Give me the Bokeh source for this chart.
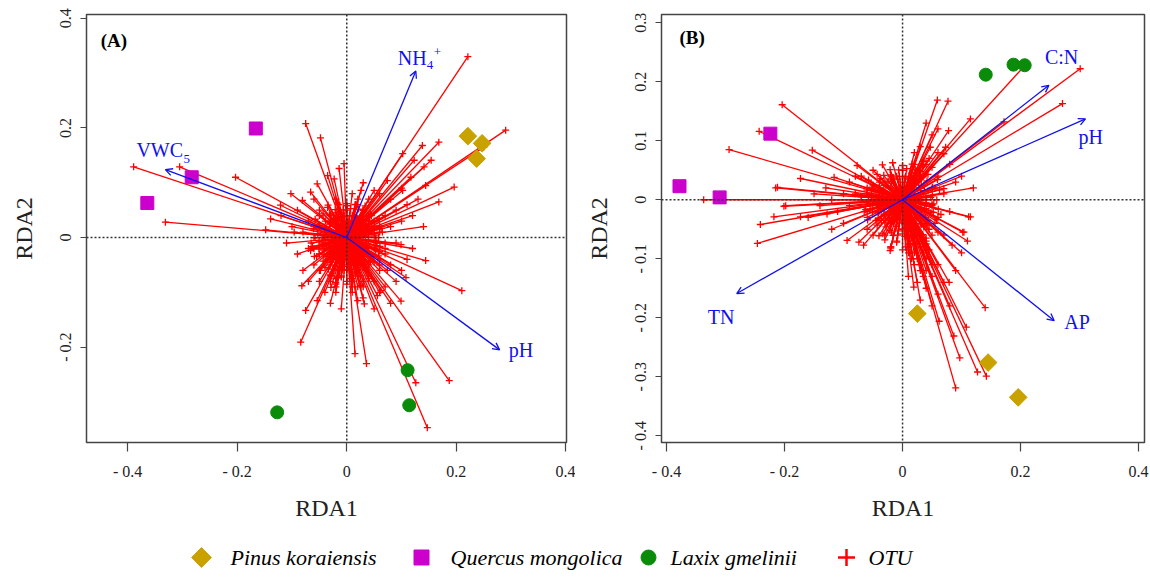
from bokeh.plotting import figure
from bokeh.models import ColumnDataSource, Arrow, OpenHead, Span, FixedTicker, Range1d
from bokeh.layouts import column, row
from bokeh.embed import file_html
from bokeh.resources import INLINE
from bokeh.core.properties import value

FONT = "Liberation Serif"
RED = "#FF0000"
BLUE = "#1010F0"
GOLD = "#C9A200"
MAGENTA = "#CC00CC"
GREEN = "#0A8C0A"

# ---------------- Panel A data ----------------
a_otu_x = [0.221, 0.290, 0.250, -0.389, -0.305, -0.203, -0.331, -0.075, -0.048, -0.005,
           0.168, 0.138, 0.141, 0.196, 0.168, -0.102, -0.066, -0.035, 0.102, 0.123,
           0.154, 0.117, 0.144, 0.102, 0.074, 0.050, 0.026, -0.014, -0.023, -0.054,
           -0.081, -0.096, -0.139, -0.121, -0.148, -0.084, -0.075, -0.082, -0.054, 0.015,
           0.036, 0.126, 0.147, 0.187, 0.099, 0.108, 0.210, 0.144, 0.099, -0.020,
           0.020, 0.056, -0.066, -0.048, -0.029, 0.062, 0.074, 0.032, 0.026, -0.017,
           0.03, 0.05, 0.06, 0.05, 0.04, 0.02, -0.01, -0.03, -0.05, -0.06,
           -0.05, -0.03, 0.00, 0.02, 0.07, 0.08, 0.07, 0.06, 0.03, 0.00,
           -0.03, -0.06, -0.07, -0.08, -0.07, -0.05, -0.02, 0.01, 0.04, 0.09,
           0.10, 0.09, 0.08, 0.05, 0.01, -0.02, -0.05, -0.04, 0.03, 0.06,
           -0.09, -0.10, -0.09, -0.06, 0.06, 0.11, 0.12, 0.12, 0.10, -0.11,
           -0.12, 0.02, -0.02, 0.03, -0.03, 0.04, -0.04, 0.01, 0.00, 0.02,
           0.13, 0.14, 0.11, -0.08, -0.07, 0.07, 0.09, -0.01, 0.05, 0.08,
           -0.03, 0.03, 0.08, 0.10,
           0.01, 0.02, 0.03, 0.04, 0.045, 0.05, 0.04, 0.03, 0.02, 0.01,
           0.00, -0.01, -0.02, -0.03, -0.04, -0.045, -0.04, -0.03, -0.02, -0.01,
           0.025, 0.02, 0.01, 0.00, -0.01, -0.02, -0.025, -0.02, -0.01, 0.00,
           0.01, 0.02, 0.065, 0.06, 0.05, 0.035, 0.02, 0.005, -0.01, -0.025,
           -0.04, -0.055, -0.065, -0.06, -0.05, -0.035, -0.015, 0.00, 0.015, 0.03,
           0.045, 0.055, 0.07, 0.03, -0.03, 0.01, 0.04, -0.02, 0.06, 0.02,
           0.035, 0.015, -0.005, 0.045, 0.025, 0.055, 0.012, -0.018, 0.038, 0.008,
           0.055, 0.053, 0.048, 0.040, 0.030, 0.018, 0.005, -0.008, -0.020, -0.030,
           -0.038, -0.043, -0.045, -0.043, -0.038, -0.030, -0.020, -0.008, 0.005, 0.018,
           0.030, 0.040, 0.048, 0.053,
           0.034, 0.030, 0.022, 0.011, -0.001, -0.012, -0.020, -0.024, -0.024, -0.020,
           -0.012, -0.001, 0.011, 0.022, 0.030, 0.034,
           0.020, 0.016, 0.005, -0.006, -0.010, -0.006, 0.005, 0.016,
           0.070, 0.060, 0.040, -0.020, -0.050, -0.060, -0.050, -0.020, 0.010, 0.040,
           0.060, 0.030]
a_otu_y = [0.330, 0.196, 0.165, 0.129, 0.129, 0.110, 0.028, 0.208, 0.182, 0.135,
           0.174, 0.168, 0.129, 0.092, 0.065, 0.080, 0.083, 0.113, 0.153, 0.141,
           0.141, 0.110, 0.095, 0.086, 0.104, 0.086, 0.086, 0.126, 0.107, 0.098,
           0.068, 0.010, 0.034, 0.059, 0.014, -0.191, -0.133, -0.088, -0.115, -0.212,
           -0.230, -0.265, -0.347, -0.261, -0.116, -0.073, -0.097, -0.042, -0.013, -0.100,
           -0.115, -0.106, -0.024, -0.060, -0.091, -0.097, -0.060, -0.121, -0.088, -0.073,
           0.05, 0.03, 0.01, -0.02, -0.05, -0.06, -0.06, -0.05, -0.03, 0.00,
           0.02, 0.04, 0.05, 0.06, 0.04, 0.02, -0.03, -0.06, -0.08, -0.08,
           -0.07, -0.05, -0.02, 0.01, 0.03, 0.05, 0.07, 0.08, 0.07, 0.05,
           0.03, -0.01, -0.05, -0.08, -0.10, -0.09, -0.08, -0.10, -0.11, -0.10,
           -0.03, 0.02, 0.05, 0.07, 0.08, 0.06, 0.04, -0.02, -0.06, -0.01,
           0.04, 0.03, 0.03, -0.03, -0.02, 0.01, 0.00, -0.04, 0.03, -0.02,
           0.07, 0.02, -0.04, -0.06, -0.08, -0.09, -0.08, -0.13, -0.13, -0.12,
           -0.12, 0.10, 0.07, 0.09,
           0.04, 0.035, 0.03, 0.02, 0.01, -0.005, -0.02, -0.035, -0.04, -0.045,
           -0.05, -0.045, -0.04, -0.03, -0.02, 0.00, 0.015, 0.03, 0.035, 0.045,
           0.00, 0.015, 0.025, 0.028, 0.022, 0.012, -0.005, -0.02, -0.028, -0.03,
           -0.028, -0.018, 0.01, -0.025, -0.045, -0.06, -0.07, -0.075, -0.07, -0.065,
           -0.055, -0.035, -0.01, 0.02, 0.04, 0.055, 0.06, 0.062, 0.06, 0.05,
           0.04, 0.03, -0.01, -0.09, -0.08, -0.09, -0.075, -0.085, -0.04, 0.07,
           -0.055, -0.065, -0.06, -0.03, -0.05, -0.015, 0.005, -0.045, 0.02, -0.035,
           -0.010, 0.003, 0.015, 0.025, 0.033, 0.038, 0.040, 0.038, 0.033, 0.025,
           0.015, 0.003, -0.010, -0.023, -0.035, -0.045, -0.053, -0.058, -0.060, -0.058,
           -0.053, -0.045, -0.035, -0.023,
           -0.004, 0.007, 0.015, 0.019, 0.019, 0.015, 0.007, -0.004, -0.016, -0.027,
           -0.035, -0.039, -0.039, -0.035, -0.027, -0.016,
           -0.010, 0.000, 0.005, 0.000, -0.010, -0.020, -0.025, -0.020,
           -0.020, 0.020, 0.040, 0.045, 0.020, -0.020, -0.060, -0.075, -0.080, -0.070,
           -0.050, 0.050]

# dense, unresolvable core of short OTU arrows (read as one solid blob, alike in both panels)
core_x = [0.058, 0.0506, 0.0627, 0.0509, 0.0592, 0.0414, 0.0431, 0.0300, 0.0334, 0.0215, 0.0162, 0.0070,
          0.0, -0.0067, -0.0168, -0.0211, -0.0342, -0.0318, -0.0431, -0.0391, -0.0577, -0.0520, -0.0605, -0.0529,
          -0.058, -0.0506, -0.0627, -0.0509, -0.0592, -0.0414, -0.0431, -0.0300, -0.0334, -0.0215, -0.0162, -0.0070,
          0.0, 0.0067, 0.0168, 0.0211, 0.0342, 0.0318, 0.0431, 0.0391, 0.0577, 0.0520, 0.0605, 0.0529,
          0.01, 0.025, -0.01, 0.04, -0.03, 0.0, 0.02, -0.02,
          0.0397, 0.037, 0.0317, 0.0244, 0.0153, 0.0052, -0.0052, -0.0153, -0.0244, -0.0317, -0.037, -0.0397,
          -0.0397, -0.037, -0.0317, -0.0244, -0.0153, -0.0052, 0.0052, 0.0153, 0.0244, 0.0317, 0.037, 0.0397]
core_y = [0.000, 0.0067, 0.0168, 0.0211, 0.0342, 0.0318, 0.0431, 0.0391, 0.0577, 0.0520, 0.0605, 0.0529,
          0.058, 0.0506, 0.0627, 0.0509, 0.0592, 0.0414, 0.0431, 0.0300, 0.0334, 0.0215, 0.0162, 0.0070,
          0.0, -0.0067, -0.0168, -0.0211, -0.0342, -0.0318, -0.0431, -0.0391, -0.0577, -0.0520, -0.0605, -0.0529,
          -0.058, -0.0506, -0.0627, -0.0509, -0.0592, -0.0414, -0.0431, -0.0300, -0.0334, -0.0215, -0.0162, -0.0070,
          -0.075, -0.07, -0.072, -0.065, -0.068, -0.085, -0.09, -0.082,
          0.0052, 0.0153, 0.0244, 0.0317, 0.037, 0.0397, 0.0397, 0.037, 0.0317, 0.0244, 0.0153, 0.0052,
          -0.0052, -0.0153, -0.0244, -0.0317, -0.037, -0.0397, -0.0397, -0.037, -0.0317, -0.0244, -0.0153, -0.0052]

a_env_main = ["NH", "VWC", "pH"]
a_env_sub = ["4", "5", ""]
a_env_sup = ["+", "", ""]
a_env_x = [0.126, -0.331, 0.279]
a_env_y = [0.304, 0.124, -0.205]

a_pinus_x = [0.221, 0.247, 0.237]
a_pinus_y = [0.185, 0.172, 0.144]
a_quercus_x = [-0.166, -0.283, -0.364]
a_quercus_y = [0.199, 0.110, 0.063]
a_laxix_x = [0.111, 0.114, -0.127]
a_laxix_y = [-0.242, -0.306, -0.319]

# ---------------- Panel B data ----------------
b_otu_x = [0.301, 0.271, 0.205, 0.059, 0.077, 0.115, 0.073, 0.078, 0.070, 0.112,
           0.104, 0.172, 0.036, 0.047, 0.070, -0.204, -0.243, -0.294, -0.153, -0.337,
           -0.215, -0.173, -0.241, -0.246, -0.198, -0.066, -0.116, -0.212, -0.201, -0.218,
           -0.128, -0.173, -0.077, -0.037, -0.094, -0.040, -0.020, 0.090, 0.127, 0.142,
           0.097, 0.108, 0.140, 0.019, 0.062, 0.079, 0.087, -0.021, -0.074, 0.102,
           0.115, 0.084,
           0.03, 0.05, 0.05, 0.04, 0.02, 0.00, -0.02, -0.04, -0.05, -0.04,
           -0.02, 0.00, 0.02, 0.04, 0.06, 0.07, 0.06, 0.05, 0.03, 0.01,
           -0.01, -0.03, -0.06, -0.07, -0.06, -0.08, -0.09, -0.10, -0.11, -0.12,
           -0.13, -0.14, -0.15, -0.16, -0.09, -0.07, 0.03, 0.05, 0.06, 0.08,
           0.09, 0.08, 0.07, 0.04, 0.03, 0.05, 0.06, 0.02, 0.01, 0.04,
           0.06, 0.07, 0.08, 0.05, 0.03, 0.09, 0.10, 0.11, 0.02, -0.02,
           0.02, -0.02, 0.03, -0.03, 0.00, 0.00, 0.04, 0.06, 0.02, -0.05,
           -0.08, -0.10, -0.12, -0.06, 0.10, 0.12,
           0.01, 0.02, 0.03, 0.035, 0.04, 0.04, 0.035, 0.03, 0.02, 0.01,
           0.00, -0.01, -0.02, -0.03, -0.04, -0.045, -0.04, -0.03, -0.02, -0.01,
           0.02, 0.015, 0.005, -0.005, -0.015, -0.02, -0.015, -0.005, 0.005, 0.015,
           0.05, 0.045, 0.035, 0.025, 0.015, 0.03, 0.04, 0.02, 0.01, 0.035,
           -0.055, -0.06, -0.05, -0.035, -0.065, -0.07, -0.045, 0.025, 0.045, 0.055,
           0.02, 0.03, 0.01, 0.04, 0.025, 0.015, 0.05, 0.035, 0.045, 0.005,
           0.050, 0.048, 0.043, 0.036, 0.027, 0.016, 0.004, -0.008, -0.019, -0.028,
           -0.036, -0.041, -0.043, -0.041, -0.036, -0.028, -0.019, -0.008, 0.004, 0.016,
           0.027, 0.036, 0.043, 0.048,
           0.031, 0.027, 0.020, 0.010, -0.001, -0.011, -0.018, -0.022, -0.022, -0.018,
           -0.011, -0.001, 0.010, 0.020, 0.027, 0.031,
           0.018, 0.014, 0.004, -0.006, -0.010, -0.006, 0.004, 0.014,
           0.065, 0.055, 0.035, -0.020, -0.050, -0.060, -0.050, -0.020, 0.010, 0.040,
           0.060, 0.030]
b_otu_y = [0.222, 0.163, 0.225, 0.169, 0.167, 0.137, 0.089, 0.117, 0.019, -0.029,
           -0.055, 0.132, 0.067, 0.089, 0.078, 0.161, 0.116, 0.085, 0.084, 0.000,
           0.020, 0.036, -0.042, -0.074, -0.010, -0.077, 0.038, 0.021, -0.011, -0.029,
           -0.024, -0.029, 0.058, 0.036, -0.069, -0.061, -0.080, -0.319, -0.292, -0.299,
           -0.268, -0.216, -0.183, -0.148, -0.206, -0.140, -0.231, -0.086, -0.072, -0.055,
           -0.029, -0.077,
           0.04, 0.02, -0.01, -0.04, -0.05, -0.05, -0.04, -0.02, 0.00, 0.02,
           0.04, 0.05, 0.06, 0.06, 0.04, 0.01, -0.03, -0.06, -0.08, -0.08,
           -0.07, -0.06, -0.03, 0.00, 0.02, 0.01, -0.01, 0.01, -0.02, 0.00,
           0.02, -0.01, 0.01, -0.03, 0.03, 0.04, 0.09, 0.11, 0.08, 0.06,
           0.03, -0.02, -0.06, -0.10, -0.12, -0.13, -0.11, -0.11, -0.13, -0.15,
           -0.16, -0.14, -0.18, -0.18, -0.17, -0.12, -0.09, -0.07, 0.02, 0.02,
           -0.02, -0.02, 0.00, 0.00, 0.03, -0.03, 0.13, 0.12, 0.08, 0.05,
           0.04, -0.04, -0.05, -0.05, 0.04, 0.02,
           0.035, 0.03, 0.02, 0.01, 0.00, -0.015, -0.03, -0.04, -0.045, -0.05,
           -0.05, -0.045, -0.035, -0.025, -0.01, 0.005, 0.02, 0.03, 0.035, 0.04,
           0.005, 0.015, 0.02, 0.02, 0.01, -0.005, -0.015, -0.02, -0.02, -0.012,
           0.055, 0.07, 0.065, 0.05, 0.045, -0.06, -0.07, -0.075, -0.065, -0.09,
           -0.01, 0.01, 0.025, 0.015, -0.02, 0.005, -0.035, -0.1, -0.085, -0.04,
           -0.06, -0.11, -0.09, -0.12, -0.14, -0.1, -0.11, -0.13, -0.05, -0.08,
           -0.008, 0.004, 0.015, 0.024, 0.031, 0.035, 0.037, 0.035, 0.031, 0.024,
           0.015, 0.004, -0.008, -0.022, -0.035, -0.046, -0.055, -0.060, -0.062, -0.060,
           -0.055, -0.046, -0.035, -0.022,
           -0.002, 0.008, 0.015, 0.019, 0.019, 0.015, 0.008, -0.002, -0.014, -0.025,
           -0.034, -0.038, -0.038, -0.034, -0.025, -0.014,
           -0.008, 0.002, 0.006, 0.002, -0.008, -0.018, -0.024, -0.018,
           -0.025, 0.020, 0.040, 0.042, 0.018, -0.020, -0.060, -0.080, -0.085, -0.075,
           -0.055, 0.048]

b_env_main = ["C:N", "pH", "TN", "AP"]
b_env_x = [0.248, 0.310, -0.281, 0.257]
b_env_y = [0.194, 0.137, -0.159, -0.205]

b_pinus_x = [0.025, 0.145, 0.196]
b_pinus_y = [-0.193, -0.276, -0.335]
b_quercus_x = [-0.224, -0.310, -0.378]
b_quercus_y = [0.112, 0.004, 0.023]
b_laxix_x = [0.141, 0.188, 0.207]
b_laxix_y = [0.212, 0.229, 0.228]

x_ticks = [-0.4, -0.2, 0.0, 0.2, 0.4]
a_y_ticks = [-0.2, 0.0, 0.2, 0.4]
b_y_ticks = [-0.4, -0.3, -0.2, -0.1, 0.0, 0.1, 0.2, 0.3]

legend_labels = ["Pinus koraiensis", "Quercus mongolica", "Laxix gmelinii", "OTU"]


def tick_label(v):
    if abs(v) < 1e-12:
        return "0"
    s = ("%.1f" % abs(v))
    return ("- " + s) if v < 0 else s


def style_axes(p, yticks):
    p.xaxis.ticker = FixedTicker(ticks=x_ticks)
    p.yaxis.ticker = FixedTicker(ticks=yticks)
    p.xaxis.major_label_overrides = {t: tick_label(t) for t in x_ticks}
    p.yaxis.major_label_overrides = {t: tick_label(t) for t in yticks}
    p.xaxis.axis_label = "RDA1"
    p.yaxis.axis_label = "RDA2"
    for ax in (p.xaxis[0], p.yaxis[0]):
        ax.axis_label_text_font = FONT
        ax.axis_label_text_font_style = "normal"
        ax.axis_label_text_font_size = "24px"
        ax.axis_label_text_color = "#222222"
        ax.major_label_text_font = FONT
        ax.major_label_text_font_size = "16px"
        ax.major_label_text_color = "#222222"
        ax.minor_tick_line_color = None
        ax.major_tick_in = 0
        ax.axis_line_color = None
        ax.major_tick_line_color = "#444444"
        ax.major_tick_line_width = 1.2
    p.xaxis.major_tick_out = 9
    p.xaxis.major_label_standoff = 11
    p.xaxis.axis_label_standoff = 12
    p.yaxis.major_tick_out = 6
    p.yaxis.major_label_standoff = 6
    p.yaxis.major_label_orientation = "vertical"
    p.yaxis.axis_label_standoff = 18
    p.xgrid.grid_line_color = None
    p.ygrid.grid_line_color = None
    p.outline_line_color = "#444444"
    p.outline_line_width = 1.5
    p.background_fill_color = "white"
    p.border_fill_color = "white"


def draw_panel(p, otu_x, otu_y, env_x, env_y, sites):
    p.add_layout(Span(location=0, dimension="width", line_color="#333333",
                      line_dash="2 2", line_width=1.5))
    p.add_layout(Span(location=0, dimension="height", line_color="#333333",
                      line_dash="2 2", line_width=1.5))
    otu = ColumnDataSource(dict(x0=[0.0] * len(otu_x), y0=[0.0] * len(otu_y),
                                x=otu_x, y=otu_y))
    p.segment(x0="x0", y0="y0", x1="x", y1="y", source=otu,
              line_color=RED, line_width=1.3)
    p.scatter(x="x", y="y", source=otu, marker="cross", size=7,
              line_color=RED, line_width=1.3)
    env = ColumnDataSource(dict(x0=[0.0] * len(env_x), y0=[0.0] * len(env_y),
                                x=env_x, y=env_y))
    p.add_layout(Arrow(end=OpenHead(size=7, line_color=BLUE, line_width=1.3),
                       x_start="x0", y_start="y0", x_end="x", y_end="y",
                       source=env, line_color=BLUE, line_width=1.3))
    (px, py), (qx, qy), (lx, ly) = sites
    p.scatter(px, py, marker="square", angle=0.785398, size=12.5,
              fill_color=GOLD, line_color=GOLD)
    p.scatter(qx, qy, marker="square", size=13, fill_color=MAGENTA, line_color=MAGENTA)
    p.scatter(lx, ly, marker="circle", size=13, fill_color=GREEN, line_color=GREEN)


def env_text(p, xs, ys, txt, dx, dy, size, align="left"):
    p.text(x=xs, y=ys, text=txt, x_offset=dx, y_offset=dy,
           text_font=value(FONT), text_font_size=size, text_color=BLUE,
           text_align=align, text_baseline="middle")


# ---------------- Panel A ----------------
pa = figure(frame_width=480, frame_height=428, min_border_left=86, min_border_right=9,
            min_border_top=14, min_border_bottom=83,
            x_range=Range1d(-0.475, 0.401), y_range=Range1d(-0.374, 0.407),
            output_backend="svg", toolbar_location=None)
style_axes(pa, a_y_ticks)
draw_panel(pa, a_otu_x + core_x, a_otu_y + core_y, a_env_x, a_env_y,
           [(a_pinus_x, a_pinus_y), (a_quercus_x, a_quercus_y), (a_laxix_x, a_laxix_y)])
env_text(pa, a_env_x, a_env_y, a_env_main, [-18, -29, 9], [-13, -20, 0], "20px")
env_text(pa, a_env_x, a_env_y, a_env_sub, [11, 18, 0], [-6, -11, 0], "13px")
env_text(pa, a_env_x, a_env_y, a_env_sup, [18, 0, 0], [-19, 0, 0], "13px")
pa.text(x=[-0.449], y=[0.359], text=["(A)"], text_font=value(FONT),
        text_font_size="19px", text_font_style="bold", text_color="black",
        text_align="left", text_baseline="middle")

# ---------------- Panel B ----------------
pb = figure(frame_width=483, frame_height=428, min_border_left=86, min_border_right=6,
            min_border_top=14, min_border_bottom=83,
            x_range=Range1d(-0.4085, 0.410), y_range=Range1d(-0.4115, 0.314),
            output_backend="svg", toolbar_location=None)
style_axes(pb, b_y_ticks)
draw_panel(pb, b_otu_x + core_x, b_otu_y + core_y, b_env_x, b_env_y,
           [(b_pinus_x, b_pinus_y), (b_quercus_x, b_quercus_y), (b_laxix_x, b_laxix_y)])
env_text(pb, b_env_x, b_env_y, b_env_main, [-4, -7, -29, 10], [-28, 18, 23, 1], "20px")
pb.text(x=[-0.378], y=[0.275], text=["(B)"], text_font=value(FONT),
        text_font_size="19px", text_font_style="bold", text_color="black",
        text_align="left", text_baseline="middle")

# ---------------- Legend ----------------
pl = figure(width=1150, height=53, x_range=Range1d(0, 1150), y_range=Range1d(0, 53),
            output_backend="svg", toolbar_location=None, min_border=0)
pl.axis.visible = False
pl.grid.grid_line_color = None
pl.outline_line_color = None
leg_mark_x = [201, 421, 648, 846]
leg_text_x = [230, 450, 670, 868]
leg_y = 21
pl.scatter([leg_mark_x[0]], [leg_y], marker="square", angle=0.785398, size=14,
           fill_color=GOLD, line_color=GOLD)
pl.scatter([leg_mark_x[1]], [leg_y], marker="square", size=15,
           fill_color=MAGENTA, line_color=MAGENTA)
pl.scatter([leg_mark_x[2]], [leg_y], marker="circle", size=15,
           fill_color=GREEN, line_color=GREEN)
pl.scatter([leg_mark_x[3]], [leg_y], marker="cross", size=17,
           line_color=RED, line_width=2.5)
pl.text(x=leg_text_x, y=[leg_y] * 4, text=legend_labels, text_font=value(FONT),
        text_font_size="22px", text_font_style="italic", text_color="black",
        text_align="left", text_baseline="middle")

layout = column(row(pa, pb), pl)
open("out.html", "w").write(file_html(layout, INLINE))
